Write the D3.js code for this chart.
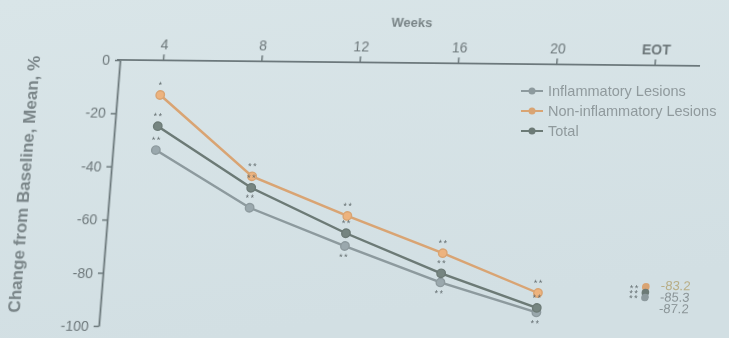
<!DOCTYPE html>
<html>
<head>
<meta charset="utf-8">
<script src="https://cdn.jsdelivr.net/npm/d3@7/dist/d3.min.js"></script>
<style>
  html, body { margin: 0; padding: 0; background: #d5e2e6; }
  svg { display: block; }
  text { font-family: "Liberation Sans", Arial, sans-serif; }
</style>
</head>
<body>
<svg id="chart" width="729" height="338"></svg>
<script>
// Visit weeks and mean % change from baseline per lesion type
const weeks = [4, 8, 12, 16, 20];
const inflammatory = [-33.7, -55.0, -69.0, -82.3, -93.2];
const nonInflammatory = [-13.0, -43.2, -57.7, -71.3, -85.9];
const total = [-24.7, -47.5, -64.2, -78.9, -91.5];

// End-of-treatment values (inflammatory, non-inflammatory, total)
const eotValues = [-87.2, -83.2, -85.3];

// Significance flags at each visit
const inflammatorySig = ["**", "**", "**", "**", "**"];
const nonInflammatorySig = ["*", "**", "**", "**", "**"];
const totalSig = ["**", "**", "**", "**", "**"];
const inflammatorySide = ["above", "above", "below", "below", "below"];

const xTicks = [4, 8, 12, 16, 20, 24];
const xTickLabels = ["4", "8", "12", "16", "20", "EOT"];
const yTicks = [0, -20, -40, -60, -80, -100];
const seriesNames = ["Inflammatory Lesions", "Non-inflammatory Lesions", "Total"];

const colors = {
  inflammatory: "#8d9a9e",
  nonInflammatory: "#d9a473",
  total: "#6c7a76",
  axis: "#6c787b",
  tickText: "#6e787b",
  title: "#7a8588",
  legend: "#909a9d",
  star: "#5a6365"
};

const svg = d3.select("#chart");

// soft background and slight photographic softness
const defs = svg.append("defs");
const grad = defs.append("linearGradient").attr("id", "bg").attr("x1", 0).attr("y1", 0).attr("x2", 0.3).attr("y2", 1);
grad.append("stop").attr("offset", "0%").attr("stop-color", "#d9e5e8");
grad.append("stop").attr("offset", "100%").attr("stop-color", "#d2dfe3");
defs.append("filter").attr("id", "soft").append("feGaussianBlur").attr("stdDeviation", 0.55);

svg.append("rect").attr("width", 729).attr("height", 338).attr("fill", "url(#bg)");

const root = svg.append("g").attr("filter", "url(#soft)");

// plot group, slightly sheared like a slide seen at an angle
const plot = root.append("g")
  .attr("transform", "translate(120,60) matrix(1,0.0103,-0.08,1,0,0)");

const x = d3.scaleLinear().domain([2.25, 25.85]).range([0, 580]);
const y = d3.scaleLinear().domain([0, -100]).range([0, 266]);

// x axis along the top
const xAxis = plot.append("g")
  .call(d3.axisTop(x).tickValues(xTicks)
    .tickFormat((d, i) => xTickLabels[i])
    .tickSize(6).tickPadding(5).tickSizeOuter(0));
xAxis.select(".domain").attr("stroke", colors.axis).attr("stroke-width", 1.8)
  .attr("d", `M${-3},0H${x.range()[1]}`);
xAxis.selectAll(".tick line").attr("stroke", colors.axis).attr("stroke-width", 1.5);
xAxis.selectAll(".tick text").attr("fill", colors.tickText).attr("font-size", 14)
  .attr("font-weight", (d, i) => xTickLabels[i] === "EOT" ? "bold" : "normal");

// y axis
const yAxis = plot.append("g")
  .call(d3.axisLeft(y).tickValues(yTicks).tickFormat(d => String(d))
    .tickSize(5).tickPadding(5).tickSizeOuter(0));
yAxis.select(".domain").attr("stroke", colors.axis).attr("stroke-width", 1.8);
yAxis.selectAll(".tick line").attr("stroke", colors.axis).attr("stroke-width", 1.5);
yAxis.selectAll(".tick text").attr("fill", colors.tickText).attr("font-size", 14);

// axis titles
plot.append("text")
  .attr("x", x(14.0)).attr("y", -36)
  .attr("text-anchor", "middle")
  .attr("font-size", 13).attr("font-weight", "bold").attr("fill", colors.title)
  .text("Weeks");

plot.append("text")
  .attr("transform", `translate(${-80},${y(-47)}) rotate(-90)`)
  .attr("text-anchor", "middle")
  .attr("font-size", 17).attr("font-weight", "bold").attr("fill", colors.title)
  .text("Change from Baseline, Mean, %");

// series
const series = [
  { name: seriesNames[0], values: inflammatory, sig: inflammatorySig, side: inflammatorySide, color: colors.inflammatory },
  { name: seriesNames[1], values: nonInflammatory, sig: nonInflammatorySig, side: weeks.map(() => "above"), color: colors.nonInflammatory },
  { name: seriesNames[2], values: total, sig: totalSig, side: weeks.map(() => "above"), color: colors.total }
];

const line = d3.line().x(d => x(d.w)).y(d => y(d.v));

series.forEach(s => {
  const pts = weeks.map((w, i) => ({ w, v: s.values[i], sig: s.sig[i], side: s.side[i] }));
  plot.append("path").datum(pts)
    .attr("d", line).attr("fill", "none")
    .attr("stroke", s.color).attr("stroke-width", 2.4);
  plot.selectAll(null).data(pts).enter().append("circle")
    .attr("cx", d => x(d.w)).attr("cy", d => y(d.v)).attr("r", 4.2)
    .attr("fill", d3.color(s.color).brighter(0.25)).attr("stroke", s.color).attr("stroke-width", 1.4);
  plot.selectAll(null).data(pts).enter().append("text")
    .attr("x", d => x(d.w)).attr("y", d => y(d.v) + (d.side === "above" ? -7 : 14))
    .attr("text-anchor", "middle").attr("font-size", 9).attr("letter-spacing", 1.5)
    .attr("fill", colors.star).text(d => d.sig);
});

// end-of-treatment summary block
const eotX = x(24) + 9;
const eotOrder = [1, 2, 0];
const eotMean = d3.mean(eotValues);
eotOrder.forEach((si, r) => {
  plot.append("circle")
    .attr("cx", eotX).attr("cy", y(eotValues[si]))
    .attr("r", 3.8).attr("fill", series[si].color);
  plot.append("text")
    .attr("x", eotX - 11).attr("y", y(eotMean) + (r - 1) * 5 + 4)
    .attr("text-anchor", "middle").attr("font-size", 9).attr("letter-spacing", 1.5)
    .attr("fill", colors.star).text("**");
  plot.append("text")
    .attr("x", eotX + 15).attr("y", y(eotMean) + (r - 1) * 11.5 + 9)
    .attr("font-size", 13)
    .attr("fill", r === 0 ? "#b8ae86" : "#8b9598")
    .text(String(eotValues[si]));
});

// legend
const legend = root.append("g").attr("transform", "translate(521,91)");
series.forEach((s, i) => {
  const g = legend.append("g").attr("transform", `translate(0,${i * 20})`);
  g.append("line").attr("x1", 0).attr("x2", 22).attr("y1", 0).attr("y2", 0)
    .attr("stroke", s.color).attr("stroke-width", 2);
  g.append("circle").attr("cx", 11).attr("cy", 0).attr("r", 3.5).attr("fill", s.color);
  g.append("text").attr("x", 27).attr("y", 5)
    .attr("font-size", 14.5).attr("fill", colors.legend)
    .text(s.name);
});
</script>
</body>
</html>
